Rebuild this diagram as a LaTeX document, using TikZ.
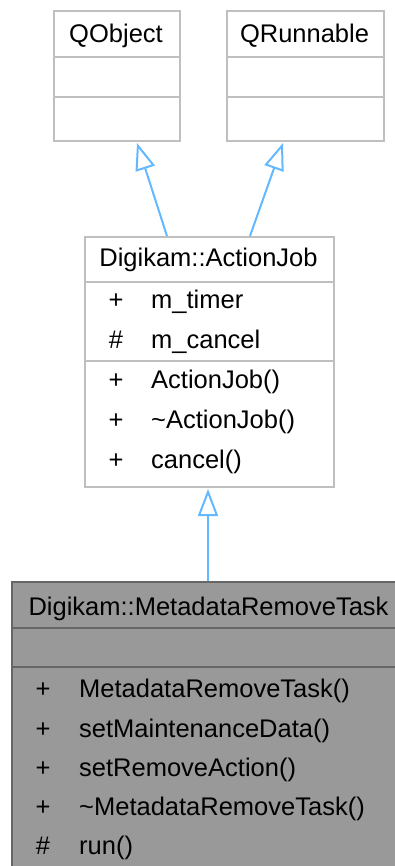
\documentclass[tikz,border=0pt]{standalone}
\usepackage{fontspec}
\setmainfont{Liberation Sans}
\usetikzlibrary{arrows.meta,calc}
\definecolor{lgray}{HTML}{BFBFBF}
\definecolor{dgray}{HTML}{666666}
\definecolor{fgray}{HTML}{999999}
\definecolor{ablue}{HTML}{63B8FF}
\begin{document}
\begin{tikzpicture}[x=1pt,y=-1pt,
  box/.style={draw=lgray, line width=2pt, fill=white, inner sep=0pt, anchor=north west},
  dbox/.style={draw=dgray, line width=2pt, fill=fgray, inner sep=0pt, anchor=north west},
  sepl/.style={draw=lgray, line width=2pt},
  dsepl/.style={draw=dgray, line width=2pt},
  txt/.style={font=\fontsize{25.5}{30}\selectfont, inner sep=0pt, anchor=base},
  ltxt/.style={txt, anchor=base west},
  inh/.style={draw=ablue, line width=2pt, -{Triangle[open, length=27pt, width=20pt, line width=2pt]}}
]
\useasboundingbox (0,0) rectangle (395,866);
\clip (0,0) rectangle (395,866);
% QObject
\node[box, minimum width=126pt, minimum height=130pt] (qo) at (53,10) {};
\draw[sepl] (53,57) -- (179,57);
\draw[sepl] (53,97) -- (179,97);
\node[txt] (qot) at (116,43) {QObject};
% QRunnable
\node[box, minimum width=157pt, minimum height=130pt] (qr) at (226,10) {};
\draw[sepl] (226,57) -- (383,57);
\draw[sepl] (226,97) -- (383,97);
\node[txt] (qrt) at (304.5,43) {QRunnable};
% ActionJob
\node[box, minimum width=249pt, minimum height=250pt] (aj) at (84,236) {};
\draw[sepl] (84,282) -- (333,282);
\draw[sepl] (84,361) -- (333,361);
\node[txt] (ajt) at (208.5,267) {Digikam::ActionJob};
\node[txt] (ajv1) at (116,308) {+};
\node[ltxt] (ajn1) at (151,308) {m\_timer};
\node[txt] (ajv2) at (116,348) {\#};
\node[ltxt] (ajn2) at (151,348) {m\_cancel};
\node[txt] (ajv3) at (116,388) {+};
\node[ltxt] (ajn3) at (151,388) {ActionJob()};
\node[txt] (ajv4) at (116,428) {+};
\node[ltxt] (ajn4) at (151,428) {\textasciitilde ActionJob()};
\node[txt] (ajv5) at (116,468) {+};
\node[ltxt] (ajn5) at (151,468) {cancel()};
% MetadataRemoveTask
\node[dbox, minimum width=395pt, minimum height=300pt] (mrt) at (11,581) {};
\draw[dsepl] (11,628) -- (406,628);
\draw[dsepl] (11,667) -- (406,667);
\node[txt] (mrtt) at (208.5,615) {Digikam::MetadataRemoveTask};
\node[txt] (mv1) at (43,697) {+};
\node[ltxt] (mn1) at (79,697) {MetadataRemoveTask()};
\node[txt] (mv2) at (43,737) {+};
\node[ltxt] (mn2) at (79,737) {setMaintenanceData()};
\node[txt] (mv3) at (43,776) {+};
\node[ltxt] (mn3) at (79,776) {setRemoveAction()};
\node[txt] (mv4) at (43,815) {+};
\node[ltxt] (mn4) at (79,815) {\textasciitilde MetadataRemoveTask()};
\node[txt] (mv5) at (43,854) {\#};
\node[ltxt] (mn5) at (79,854) {run()};
% inheritance arrows
\draw[inh] ($(aj.north west)+(83,0)$) -- ($(qo.south west)+(84,1)$);
\draw[inh] ($(aj.north west)+(166,0)$) -- ($(qr.south west)+(57,1)$);
\draw[inh] ($(mrt.north west)+(197,0)$) -- ($(aj.south west)+(124,1)$);
\end{tikzpicture}
\end{document}
